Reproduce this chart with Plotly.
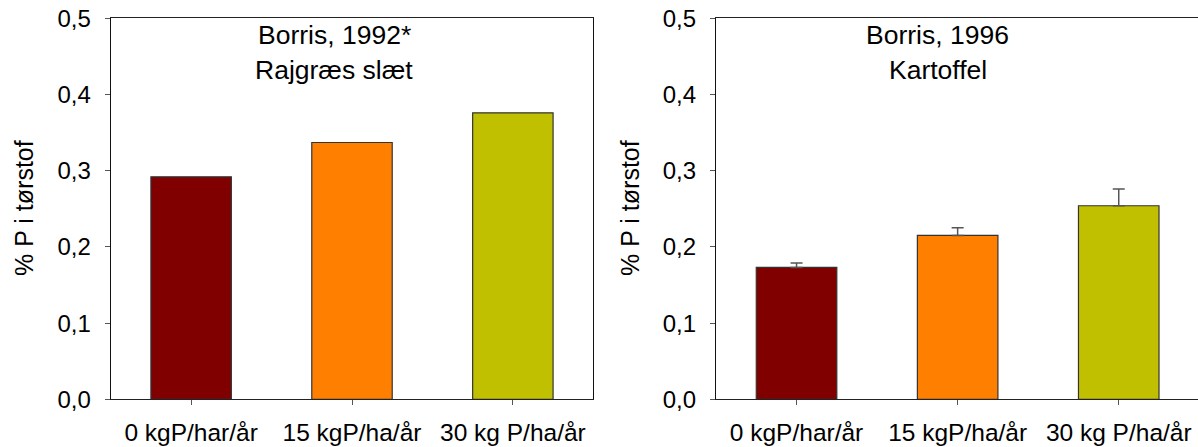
import plotly.graph_objects as go

categories = ["0 kgP/har/år", "15 kgP/ha/år", "30 kg P/ha/år"]
colors = ["#800000", "#FF8000", "#C0C000"]

left_values = [0.292, 0.337, 0.376]
right_values = [0.173, 0.215, 0.254]
right_errors = [0.006, 0.010, 0.022]

y_ticks = [0.0, 0.1, 0.2, 0.3, 0.4, 0.5]
left_title = ["Borris, 1992*", "Rajgræs slæt"]
right_title = ["Borris, 1996", "Kartoffel"]
y_label = "% P i tørstof"

W, H = 1198, 447
FONT = "Liberation Sans, Arial, sans-serif"

fig = go.Figure()
fig.add_trace(go.Bar(
    x=[0, 1, 2], y=left_values, width=0.5,
    marker=dict(color=colors, line=dict(color="#333333", width=1.2)),
    xaxis="x", yaxis="y", showlegend=False, hoverinfo="y",
))
fig.add_trace(go.Bar(
    x=[0, 1, 2], y=right_values, width=0.5,
    marker=dict(color=colors, line=dict(color="#333333", width=1.2)),
    error_y=dict(type="data", array=right_errors, symmetric=False,
                 arrayminus=[0, 0, 0], color="#555555", thickness=1.5, width=6),
    xaxis="x2", yaxis="y2", showlegend=False, hoverinfo="y",
))

ydom = [1 - 399.3 / H, 1 - 18.3 / H]
left_dom = [110.7 / W, 593.3 / W]
right_dom = [716.0 / W, 1.0]

xcommon = dict(
    tickmode="array", tickvals=[0, 1, 2], ticktext=categories,
    ticks="outside", ticklen=5, tickcolor="#555555", tickwidth=1,
    showline=True, linecolor="#222222", linewidth=1.2,
    showgrid=False, zeroline=False, fixedrange=True,
    tickfont=dict(family=FONT, size=24.5, color="black"),
    ticklabelstandoff=6,
)
ycommon = dict(
    range=[0, 0.5], tickmode="array", tickvals=y_ticks, tickformat=".1f",
    ticks="outside", ticklen=5, tickcolor="#555555", tickwidth=1,
    showline=True, linecolor="#111111", linewidth=1.2,
    showgrid=False, zeroline=False, fixedrange=True,
    tickfont=dict(family=FONT, size=24, color="black"),
    ticklabelstandoff=9,
)

fig.update_layout(
    width=W, height=H,
    margin=dict(l=0, r=0, t=0, b=0, autoexpand=False),
    paper_bgcolor="white", plot_bgcolor="white",
    separators=",.",
    bargap=0.5,
    xaxis=dict(domain=left_dom, range=[-0.5, 2.5], anchor="y", mirror=True, **xcommon),
    yaxis=dict(domain=ydom, anchor="x", mirror=True, **ycommon),
    xaxis2=dict(domain=right_dom, range=[-0.5, 2.492], anchor="y2", mirror=True, **xcommon),
    yaxis2=dict(domain=ydom, anchor="x2", mirror=False, **ycommon),
)

ann = []
def add_title(lines, xref, xpos):
    for i, t in enumerate(lines):
        ann.append(dict(text=t, xref=xref, x=xpos, yref="paper",
                        y=1 - (35 + 35 * i) / H, xanchor="center", yanchor="middle",
                        showarrow=False, font=dict(family=FONT, size=26.5, color="black")))

add_title(left_title, "x", 0.89)
add_title(right_title, "x2", 0.876)

for xp in [24 / W, 630 / W]:
    ann.append(dict(text=y_label, xref="paper", x=xp, yref="paper", y=1 - 208 / H,
                    xanchor="center", yanchor="middle", textangle=-90, showarrow=False,
                    font=dict(family=FONT, size=25, color="black")))
fig.update_layout(annotations=ann)

fig.write_html("out.html")
